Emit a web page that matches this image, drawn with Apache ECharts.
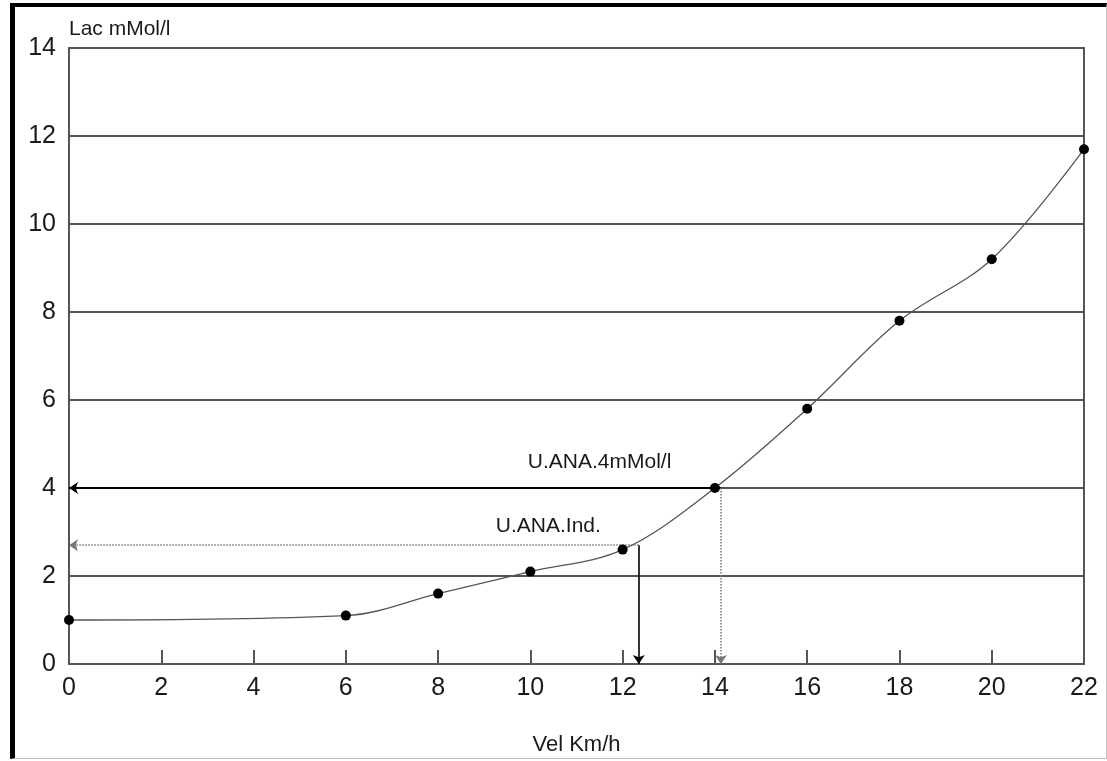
<!DOCTYPE html>
<html>
<head>
<meta charset="utf-8">
<script src="https://cdn.jsdelivr.net/npm/echarts@6/dist/echarts.min.js"></script>
<style>
  html, body { margin: 0; padding: 0; background: #fff; }
  #frame {
    position: absolute; left: 10px; top: 3px; width: 1091px; height: 751px;
    border-left: 5px solid #000; border-top: 4px solid #000;
    border-right: 1px solid #bdbdbd; border-bottom: 1px solid #bdbdbd;
  }
  #chart { position: absolute; left: 0; top: 0; width: 1107px; height: 761px; }
</style>
</head>
<body>
<div id="frame"></div>
<div id="chart"></div>
<script>
// Lactate test: blood lactate against running speed
const velocity = [0, 6, 8, 10, 12, 14, 16, 18, 20, 22];          // Km/h
const lactate  = [1.0, 1.1, 1.6, 2.1, 2.6, 4.0, 5.8, 7.8, 9.2, 11.7]; // mMol/l

const xTickLabels = ['0', '2', '4', '6', '8', '10', '12', '14', '16', '18', '20', '22'];
const yTickLabels = ['0', '2', '4', '6', '8', '10', '12', '14'];

// Anaerobic thresholds
const thresholdNames = ['U.ANA.Ind.', 'U.ANA.4mMol/l'];
const thresholdVel   = [12.35, 14.13];
const thresholdLac   = [2.7, 4.0];

const axisColor = '#555';
const textColor = '#1a1a1a';
const font = 'Liberation Sans, Arial, sans-serif';

const chart = echarts.init(document.getElementById('chart'), null, { renderer: 'canvas' });

const points = velocity.map((v, i) => [v, lactate[i]]);

function arrowLine(from, to, color, width, type) {
  return [
    { coord: from, lineStyle: { color: color, width: width, type: type }, itemStyle: { color: color } },
    { coord: to }
  ];
}

const option = {
  animation: false,
  backgroundColor: 'transparent',
  grid: {
    left: 69, right: 23, top: 48, bottom: 96,
    show: true, borderColor: axisColor, borderWidth: 2, backgroundColor: 'transparent'
  },
  xAxis: {
    type: 'value', min: 0, max: 22, interval: 2,
    name: 'Vel Km/h', nameLocation: 'middle', nameGap: 70,
    nameTextStyle: { color: textColor, fontSize: 22, fontFamily: font },
    axisLine: { show: true, lineStyle: { color: axisColor, width: 2 } },
    axisTick: { show: true, inside: true, length: 14, lineStyle: { color: axisColor, width: 2 } },
    axisLabel: {
      color: textColor, fontSize: 25, fontFamily: font, margin: 12,
      formatter: v => xTickLabels[Math.round(v / 2)]
    },
    splitLine: { show: false }
  },
  yAxis: {
    type: 'value', min: 0, max: 14, interval: 2,
    name: 'Lac mMol/l', nameLocation: 'end', nameGap: 8,
    nameTextStyle: { color: textColor, fontSize: 21, fontFamily: font, align: 'left', verticalAlign: 'bottom' },
    axisLine: { show: true, lineStyle: { color: axisColor, width: 2 } },
    axisTick: { show: false },
    axisLabel: {
      color: textColor, fontSize: 25, fontFamily: font, margin: 13,
      formatter: v => yTickLabels[Math.round(v / 2)]
    },
    splitLine: { show: true, lineStyle: { color: axisColor, width: 2 } }
  },
  series: [
    {
      type: 'line',
      data: points,
      smooth: 0.35,
      symbol: 'circle',
      symbolSize: 10,
      itemStyle: { color: '#000' },
      lineStyle: { color: '#555', width: 1.3 },
      z: 5,
      markLine: {
        silent: true,
        animation: false,
        symbol: ['none', 'arrow'],
        symbolSize: 9,
        label: { show: false },
        data: [
          // 4 mMol/l threshold: across to the lactate axis, down to the speed axis
          arrowLine([thresholdVel[1], thresholdLac[1]], [0, thresholdLac[1]], '#000', 2.2, 'solid'),
          arrowLine([thresholdVel[1], thresholdLac[1]], [thresholdVel[1], 0], '#777', 1.5, 'dotted'),
          // individual threshold
          arrowLine([thresholdVel[0], thresholdLac[0]], [0, thresholdLac[0]], '#777', 1.5, 'dotted'),
          arrowLine([thresholdVel[0], thresholdLac[0]], [thresholdVel[0], 0], '#000', 1.6, 'solid')
        ]
      }
    },
    {
      type: 'scatter',
      symbolSize: 0,
      silent: true,
      itemStyle: { opacity: 1 },
      data: [
        { value: [10.39, 3.13], name: thresholdNames[0] },
        { value: [11.5, 4.58], name: thresholdNames[1] }
      ],
      label: {
        show: true, position: [0, 0], align: 'center', verticalAlign: 'middle',
        formatter: p => p.name,
        color: textColor, fontSize: 21, fontFamily: font, opacity: 1
      },
      z: 6
    }
  ]
};

chart.setOption(option);
</script>
</body>
</html>
